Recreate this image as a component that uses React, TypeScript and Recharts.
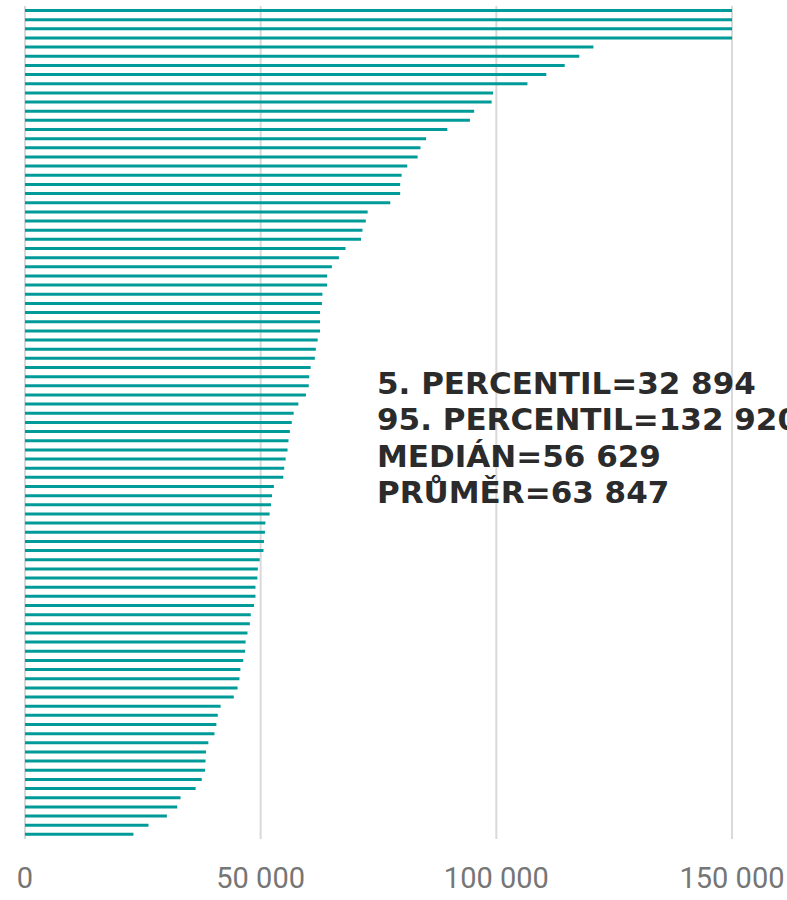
import React from 'react';
import { BarChart, Bar, XAxis, YAxis, CartesianGrid } from 'recharts';

// sorted values, largest on top (top 4 run past the axis max)
const values = [
  150000, 150000, 150000, 150000,
  120600, 117600, 114500, 110600, 106600,
  99300, 99000, 95300, 94400, 89600, 85100, 83900, 83300, 81100, 79900, 79600, 79600, 77500, 72700,
  72300, 71600, 71300, 68000, 66600, 65100, 64100, 64100, 63100, 63000, 62600, 62600, 62600, 62100,
  61700, 61500, 60600, 60300, 60200, 59600, 58000, 57000, 56600,
  56200, 55900, 55700, 55300, 55000, 54800, 52800, 52400, 52200, 51900, 51000, 50900, 50700, 50600,
  49800, 49400, 49300, 48900, 48900, 48600, 47900, 47700, 47200,
  46800, 46700, 46300, 45700, 45500, 45100, 44300, 41500, 40900, 40600, 40200, 38900, 38400, 38300,
  38200, 37500, 36200, 33000, 32300, 30100, 26200, 23000,
];

const xTicks = [0, 50000, 100000, 150000];

const statLines = [
  '5. PERCENTIL=32 894',
  '95. PERCENTIL=132 920',
  'MEDIÁN=56 629',
  'PRŮMĚR=63 847',
];

const data = values.map((v, i) => ({ id: `r${i + 1}`, value: v }));

const fmt = (v: number) => (v === 0 ? '0' : v.toLocaleString('en-US').replace(/,/g, ' '));

const App: React.FC = () => {
  return (
    <div style={{ position: 'absolute', left: 0, top: 0, width: 787, height: 900, overflow: 'hidden', background: '#fff' }}>
      <BarChart
        width={787}
        height={900}
        data={data}
        layout="vertical"
        margin={{ top: 6, right: 55, bottom: 11, left: 25 }}
      >
        <CartesianGrid horizontal={false} stroke="#d9d9d9" strokeWidth={2} />
        <XAxis
          type="number"
          domain={[0, 150000]}
          ticks={xTicks}
          tickFormatter={fmt}
          axisLine={false}
          tickLine={false}
          tickSize={0}
          tickMargin={28}
          height={50}
          interval={0}
          tick={{ fill: '#767676', fontSize: 29, fontFamily: 'Roboto, sans-serif' }}
        />
        <YAxis type="category" dataKey="id" hide />
        <Bar dataKey="value" fill="#009b98" barSize={3} isAnimationActive={false} />
      </BarChart>
      <svg width={787} height={900} style={{ position: 'absolute', left: 0, top: 0, pointerEvents: 'none' }}>
        {statLines.map((t, i) => (
          <text
            key={t}
            x={377}
            y={394 + i * 36.4}
            fontFamily="'DejaVu Sans', sans-serif"
            fontWeight="bold"
            fontSize={31}
            fill="#2b2b2b"
          >
            {t}
          </text>
        ))}
      </svg>
    </div>
  );
};

export default App;
